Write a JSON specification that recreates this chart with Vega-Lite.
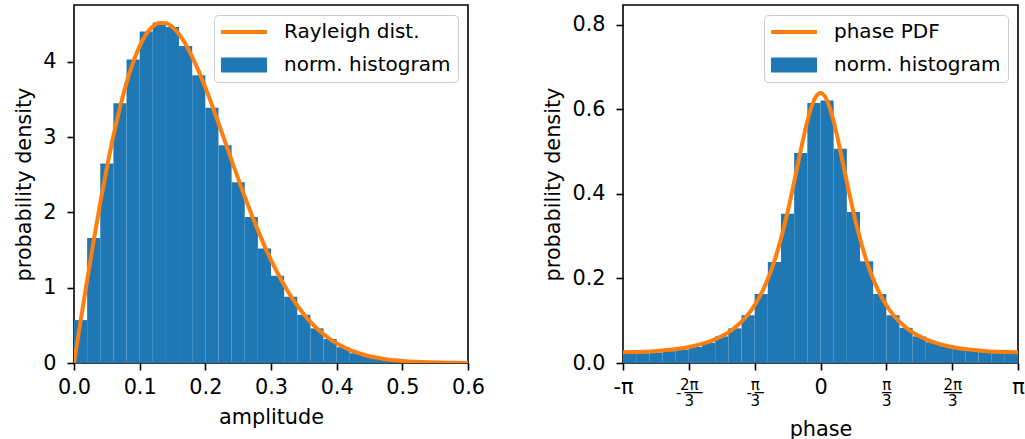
{
  "$schema": "https://vega.github.io/schema/vega-lite/v6.json",
  "background": "white",
  "padding": {"left": 12, "top": 4, "right": 5, "bottom": 2},
  "spacing": 56,
  "config": {
    "font": "DejaVu Sans",
    "view": {"stroke": "black", "strokeWidth": 1.6},
    "axis": {
      "grid": false, "domain": false, "labelFlush": false,
      "tickColor": "black", "tickSize": 7, "tickWidth": 1.6,
      "labelColor": "black", "labelFontSize": 20.8, "labelFont": "DejaVu Sans", "labelPadding": 7,
      "titleFontSize": 20.8, "titleFont": "DejaVu Sans", "titleFontWeight": "normal", "titleColor": "black", "titlePadding": 8
    },
    "axisX": {"titlePadding": 11},
    "axisY": {"labelPadding": 11},
    "legend": {
      "orient": "top-right", "offset": 10, "padding": 7, "rowPadding": 13,
      "symbolSize": 400, "symbolStrokeWidth": 0, "symbolOffset": 13, "labelOffset": 30, "labelLimit": 400,
      "labelFontSize": 20, "labelFont": "DejaVu Sans", "labelColor": "black",
      "fillColor": "rgba(255,255,255,0.8)", "strokeColor": "#cccccc", "cornerRadius": 4
    }
  },
  "resolve": {"scale": {"color": "independent"}, "legend": {"color": "independent"}},
  "hconcat": [
    {
      "width": 394, "height": 358,
      "layer": [
        {
          "data": {"values": [
            {"x": 0.00, "x2": 0.02, "y": 0.57, "series": "norm. histogram"},
            {"x": 0.02, "x2": 0.04, "y": 1.66, "series": "norm. histogram"},
            {"x": 0.04, "x2": 0.06, "y": 2.65, "series": "norm. histogram"},
            {"x": 0.06, "x2": 0.08, "y": 3.45, "series": "norm. histogram"},
            {"x": 0.08, "x2": 0.10, "y": 4.03, "series": "norm. histogram"},
            {"x": 0.10, "x2": 0.12, "y": 4.40, "series": "norm. histogram"},
            {"x": 0.12, "x2": 0.14, "y": 4.52, "series": "norm. histogram"},
            {"x": 0.14, "x2": 0.16, "y": 4.46, "series": "norm. histogram"},
            {"x": 0.16, "x2": 0.18, "y": 4.21, "series": "norm. histogram"},
            {"x": 0.18, "x2": 0.20, "y": 3.82, "series": "norm. histogram"},
            {"x": 0.20, "x2": 0.22, "y": 3.39, "series": "norm. histogram"},
            {"x": 0.22, "x2": 0.24, "y": 2.89, "series": "norm. histogram"},
            {"x": 0.24, "x2": 0.26, "y": 2.40, "series": "norm. histogram"},
            {"x": 0.26, "x2": 0.28, "y": 1.94, "series": "norm. histogram"},
            {"x": 0.28, "x2": 0.30, "y": 1.52, "series": "norm. histogram"},
            {"x": 0.30, "x2": 0.32, "y": 1.16, "series": "norm. histogram"},
            {"x": 0.32, "x2": 0.34, "y": 0.88, "series": "norm. histogram"},
            {"x": 0.34, "x2": 0.36, "y": 0.64, "series": "norm. histogram"},
            {"x": 0.36, "x2": 0.38, "y": 0.46, "series": "norm. histogram"},
            {"x": 0.38, "x2": 0.40, "y": 0.32, "series": "norm. histogram"},
            {"x": 0.40, "x2": 0.42, "y": 0.21, "series": "norm. histogram"},
            {"x": 0.42, "x2": 0.44, "y": 0.13, "series": "norm. histogram"},
            {"x": 0.44, "x2": 0.46, "y": 0.085, "series": "norm. histogram"},
            {"x": 0.46, "x2": 0.48, "y": 0.055, "series": "norm. histogram"},
            {"x": 0.48, "x2": 0.50, "y": 0.034, "series": "norm. histogram"},
            {"x": 0.50, "x2": 0.52, "y": 0.02, "series": "norm. histogram"},
            {"x": 0.52, "x2": 0.54, "y": 0.012, "series": "norm. histogram"},
            {"x": 0.54, "x2": 0.56, "y": 0.007, "series": "norm. histogram"},
            {"x": 0.56, "x2": 0.58, "y": 0.004, "series": "norm. histogram"},
            {"x": 0.58, "x2": 0.60, "y": 0.002, "series": "norm. histogram"}
          ]},
          "mark": {"type": "bar"},
          "encoding": {
            "x": {"field": "x", "type": "quantitative", "scale": {"domain": [0, 0.6], "nice": false, "zero": false},
                  "axis": {"title": "amplitude", "values": [0, 0.1, 0.2, 0.3, 0.4, 0.5, 0.6], "format": ".1f"}},
            "x2": {"field": "x2"},
            "y": {"field": "y", "type": "quantitative", "scale": {"domain": [0, 4.753], "nice": false},
                  "axis": {"title": "probability density", "values": [0, 1, 2, 3, 4], "format": "d"}},
            "y2": {"datum": 0},
            "color": {"field": "series", "type": "nominal",
                      "scale": {"domain": ["Rayleigh dist.", "norm. histogram"], "range": ["#ff7f0e", "#1f77b4"]},
                      "legend": {"title": null, "labelExpr": "datum.label + '\u00a0\u00a0'",
                        "encode": {"symbols": {"update": {
                          "shape": {"signal": "datum.value === 'norm. histogram' ? 'M-2.3,-0.75H2.3V0.75H-2.3Z' : 'M-2.3,-0.2H2.3V0.2H-2.3Z'"},
                          "fill": {"signal": "datum.value === 'norm. histogram' ? '#1f77b4' : '#ff7f0e'"},
                          "stroke": {"value": "transparent"},
                          "opacity": {"value": 1}
                        }}}}}
          }
        },
        {
          "data": {"values": [
            {"x": 0.00, "y": 0.0, "series": "Rayleigh dist."},
            {"x": 0.01, "y": 0.554, "series": "Rayleigh dist."},
            {"x": 0.02, "y": 1.098, "series": "Rayleigh dist."},
            {"x": 0.03, "y": 1.625, "series": "Rayleigh dist."},
            {"x": 0.04, "y": 2.125, "series": "Rayleigh dist."},
            {"x": 0.05, "y": 2.590, "series": "Rayleigh dist."},
            {"x": 0.06, "y": 3.015, "series": "Rayleigh dist."},
            {"x": 0.07, "y": 3.392, "series": "Rayleigh dist."},
            {"x": 0.08, "y": 3.719, "series": "Rayleigh dist."},
            {"x": 0.09, "y": 3.990, "series": "Rayleigh dist."},
            {"x": 0.10, "y": 4.206, "series": "Rayleigh dist."},
            {"x": 0.11, "y": 4.365, "series": "Rayleigh dist."},
            {"x": 0.12, "y": 4.467, "series": "Rayleigh dist."},
            {"x": 0.13, "y": 4.515, "series": "Rayleigh dist."},
            {"x": 0.14, "y": 4.511, "series": "Rayleigh dist."},
            {"x": 0.15, "y": 4.460, "series": "Rayleigh dist."},
            {"x": 0.16, "y": 4.364, "series": "Rayleigh dist."},
            {"x": 0.17, "y": 4.231, "series": "Rayleigh dist."},
            {"x": 0.18, "y": 4.065, "series": "Rayleigh dist."},
            {"x": 0.19, "y": 3.872, "series": "Rayleigh dist."},
            {"x": 0.20, "y": 3.658, "series": "Rayleigh dist."},
            {"x": 0.21, "y": 3.428, "series": "Rayleigh dist."},
            {"x": 0.22, "y": 3.187, "series": "Rayleigh dist."},
            {"x": 0.23, "y": 2.940, "series": "Rayleigh dist."},
            {"x": 0.24, "y": 2.693, "series": "Rayleigh dist."},
            {"x": 0.25, "y": 2.448, "series": "Rayleigh dist."},
            {"x": 0.26, "y": 2.210, "series": "Rayleigh dist."},
            {"x": 0.27, "y": 1.981, "series": "Rayleigh dist."},
            {"x": 0.28, "y": 1.764, "series": "Rayleigh dist."},
            {"x": 0.29, "y": 1.559, "series": "Rayleigh dist."},
            {"x": 0.30, "y": 1.369, "series": "Rayleigh dist."},
            {"x": 0.31, "y": 1.195, "series": "Rayleigh dist."},
            {"x": 0.32, "y": 1.035, "series": "Rayleigh dist."},
            {"x": 0.33, "y": 0.891, "series": "Rayleigh dist."},
            {"x": 0.34, "y": 0.763, "series": "Rayleigh dist."},
            {"x": 0.35, "y": 0.648, "series": "Rayleigh dist."},
            {"x": 0.36, "y": 0.547, "series": "Rayleigh dist."},
            {"x": 0.37, "y": 0.459, "series": "Rayleigh dist."},
            {"x": 0.38, "y": 0.383, "series": "Rayleigh dist."},
            {"x": 0.39, "y": 0.317, "series": "Rayleigh dist."},
            {"x": 0.40, "y": 0.262, "series": "Rayleigh dist."},
            {"x": 0.41, "y": 0.214, "series": "Rayleigh dist."},
            {"x": 0.42, "y": 0.174, "series": "Rayleigh dist."},
            {"x": 0.43, "y": 0.141, "series": "Rayleigh dist."},
            {"x": 0.44, "y": 0.113, "series": "Rayleigh dist."},
            {"x": 0.45, "y": 0.090, "series": "Rayleigh dist."},
            {"x": 0.46, "y": 0.072, "series": "Rayleigh dist."},
            {"x": 0.47, "y": 0.057, "series": "Rayleigh dist."},
            {"x": 0.48, "y": 0.045, "series": "Rayleigh dist."},
            {"x": 0.49, "y": 0.035, "series": "Rayleigh dist."},
            {"x": 0.50, "y": 0.027, "series": "Rayleigh dist."},
            {"x": 0.52, "y": 0.016, "series": "Rayleigh dist."},
            {"x": 0.54, "y": 0.009, "series": "Rayleigh dist."},
            {"x": 0.56, "y": 0.005, "series": "Rayleigh dist."},
            {"x": 0.58, "y": 0.003, "series": "Rayleigh dist."},
            {"x": 0.60, "y": 0.0015, "series": "Rayleigh dist."}
          ]},
          "mark": {"type": "line", "strokeWidth": 4, "interpolate": "monotone", "clip": true},
          "encoding": {
            "x": {"field": "x", "type": "quantitative", "axis": {"title": "amplitude"}},
            "y": {"field": "y", "type": "quantitative", "axis": {"title": "probability density"}},
            "color": {"field": "series", "type": "nominal"}
          }
        }
      ]
    },
    {
      "width": 395, "height": 358,
      "layer": [
        {
          "data": {"values": [
            {"x": -3.14159, "x2": -2.93215, "y": 0.022, "series": "norm. histogram"},
            {"x": -2.93215, "x2": -2.72271, "y": 0.023, "series": "norm. histogram"},
            {"x": -2.72271, "x2": -2.51327, "y": 0.025, "series": "norm. histogram"},
            {"x": -2.51327, "x2": -2.30383, "y": 0.028, "series": "norm. histogram"},
            {"x": -2.30383, "x2": -2.09440, "y": 0.032, "series": "norm. histogram"},
            {"x": -2.09440, "x2": -1.88496, "y": 0.038, "series": "norm. histogram"},
            {"x": -1.88496, "x2": -1.67552, "y": 0.048, "series": "norm. histogram"},
            {"x": -1.67552, "x2": -1.46608, "y": 0.063, "series": "norm. histogram"},
            {"x": -1.46608, "x2": -1.25664, "y": 0.082, "series": "norm. histogram"},
            {"x": -1.25664, "x2": -1.04720, "y": 0.113, "series": "norm. histogram"},
            {"x": -1.04720, "x2": -0.83776, "y": 0.163, "series": "norm. histogram"},
            {"x": -0.83776, "x2": -0.62832, "y": 0.239, "series": "norm. histogram"},
            {"x": -0.62832, "x2": -0.41888, "y": 0.353, "series": "norm. histogram"},
            {"x": -0.41888, "x2": -0.20944, "y": 0.497, "series": "norm. histogram"},
            {"x": -0.20944, "x2": 0.0, "y": 0.615, "series": "norm. histogram"},
            {"x": 0.0, "x2": 0.20944, "y": 0.621, "series": "norm. histogram"},
            {"x": 0.20944, "x2": 0.41888, "y": 0.507, "series": "norm. histogram"},
            {"x": 0.41888, "x2": 0.62832, "y": 0.357, "series": "norm. histogram"},
            {"x": 0.62832, "x2": 0.83776, "y": 0.241, "series": "norm. histogram"},
            {"x": 0.83776, "x2": 1.04720, "y": 0.163, "series": "norm. histogram"},
            {"x": 1.04720, "x2": 1.25664, "y": 0.113, "series": "norm. histogram"},
            {"x": 1.25664, "x2": 1.46608, "y": 0.083, "series": "norm. histogram"},
            {"x": 1.46608, "x2": 1.67552, "y": 0.063, "series": "norm. histogram"},
            {"x": 1.67552, "x2": 1.88496, "y": 0.049, "series": "norm. histogram"},
            {"x": 1.88496, "x2": 2.09440, "y": 0.040, "series": "norm. histogram"},
            {"x": 2.09440, "x2": 2.30383, "y": 0.033, "series": "norm. histogram"},
            {"x": 2.30383, "x2": 2.51327, "y": 0.029, "series": "norm. histogram"},
            {"x": 2.51327, "x2": 2.72271, "y": 0.026, "series": "norm. histogram"},
            {"x": 2.72271, "x2": 2.93215, "y": 0.024, "series": "norm. histogram"},
            {"x": 2.93215, "x2": 3.14159, "y": 0.023, "series": "norm. histogram"}
          ]},
          "mark": {"type": "bar"},
          "encoding": {
            "x": {"field": "x", "type": "quantitative", "scale": {"domain": [-3.14159265, 3.14159265], "nice": false, "zero": false},
                  "axis": {"title": "phase",
                    "values": [-3.14159265, -2.0943951, -1.04719755, 0, 1.04719755, 2.0943951, 3.14159265],
                    "labelExpr": "round(datum.value*3/PI) == -3 ? '-π' : round(datum.value*3/PI) == -2 ? ['\u00a0\u20092π', '-\u2009──', '\u00a0\u20093'] : round(datum.value*3/PI) == -1 ? ['\u00a0\u2009π', '-\u2009─', '\u00a0\u20093'] : round(datum.value*3/PI) == 0 ? '0' : round(datum.value*3/PI) == 1 ? ['π', '─', '3'] : round(datum.value*3/PI) == 2 ? ['2π', '──', '3'] : 'π'",
                    "labelFontSize": {"condition": {"test": "abs(round(datum.value*3/PI)) == 1 || abs(round(datum.value*3/PI)) == 2", "value": 15}, "value": 20.8},
                    "labelLineHeight": 8}},
            "x2": {"field": "x2"},
            "y": {"field": "y", "type": "quantitative", "scale": {"domain": [0, 0.847], "nice": false},
                  "axis": {"title": "probability density", "values": [0, 0.2, 0.4, 0.6, 0.8], "format": ".1f"}},
            "y2": {"datum": 0},
            "color": {"field": "series", "type": "nominal",
                      "scale": {"domain": ["phase PDF", "norm. histogram"], "range": ["#ff7f0e", "#1f77b4"]},
                      "legend": {"title": null, "labelExpr": "datum.label + '\u00a0\u00a0'",
                        "encode": {"symbols": {"update": {
                          "shape": {"signal": "datum.value === 'norm. histogram' ? 'M-2.3,-0.75H2.3V0.75H-2.3Z' : 'M-2.3,-0.2H2.3V0.2H-2.3Z'"},
                          "fill": {"signal": "datum.value === 'norm. histogram' ? '#1f77b4' : '#ff7f0e'"},
                          "stroke": {"value": "transparent"},
                          "opacity": {"value": 1}
                        }}}}}
          }
        },
        {
          "data": {"values": [
            {"x": -3.14159, "y": 0.0256, "series": "phase PDF"},
            {"x": -3.0, "y": 0.0258, "series": "phase PDF"},
            {"x": -2.8, "y": 0.0267, "series": "phase PDF"},
            {"x": -2.6, "y": 0.0284, "series": "phase PDF"},
            {"x": -2.4, "y": 0.0311, "series": "phase PDF"},
            {"x": -2.2, "y": 0.0351, "series": "phase PDF"},
            {"x": -2.0, "y": 0.0409, "series": "phase PDF"},
            {"x": -1.9, "y": 0.0447, "series": "phase PDF"},
            {"x": -1.8, "y": 0.0492, "series": "phase PDF"},
            {"x": -1.7, "y": 0.0547, "series": "phase PDF"},
            {"x": -1.6, "y": 0.0614, "series": "phase PDF"},
            {"x": -1.5, "y": 0.0694, "series": "phase PDF"},
            {"x": -1.4, "y": 0.0793, "series": "phase PDF"},
            {"x": -1.3, "y": 0.0915, "series": "phase PDF"},
            {"x": -1.2, "y": 0.1065, "series": "phase PDF"},
            {"x": -1.1, "y": 0.1251, "series": "phase PDF"},
            {"x": -1.0, "y": 0.1483, "series": "phase PDF"},
            {"x": -0.9, "y": 0.1772, "series": "phase PDF"},
            {"x": -0.8, "y": 0.2130, "series": "phase PDF"},
            {"x": -0.7, "y": 0.2570, "series": "phase PDF"},
            {"x": -0.6, "y": 0.3103, "series": "phase PDF"},
            {"x": -0.5, "y": 0.3727, "series": "phase PDF"},
            {"x": -0.45, "y": 0.4068, "series": "phase PDF"},
            {"x": -0.4, "y": 0.4421, "series": "phase PDF"},
            {"x": -0.35, "y": 0.4779, "series": "phase PDF"},
            {"x": -0.3, "y": 0.5133, "series": "phase PDF"},
            {"x": -0.25, "y": 0.5468, "series": "phase PDF"},
            {"x": -0.2, "y": 0.5771, "series": "phase PDF"},
            {"x": -0.15, "y": 0.6028, "series": "phase PDF"},
            {"x": -0.1, "y": 0.6224, "series": "phase PDF"},
            {"x": -0.05, "y": 0.6346, "series": "phase PDF"},
            {"x": 0.0, "y": 0.6388, "series": "phase PDF"},
            {"x": 0.05, "y": 0.6346, "series": "phase PDF"},
            {"x": 0.1, "y": 0.6224, "series": "phase PDF"},
            {"x": 0.15, "y": 0.6028, "series": "phase PDF"},
            {"x": 0.2, "y": 0.5771, "series": "phase PDF"},
            {"x": 0.25, "y": 0.5468, "series": "phase PDF"},
            {"x": 0.3, "y": 0.5133, "series": "phase PDF"},
            {"x": 0.35, "y": 0.4779, "series": "phase PDF"},
            {"x": 0.4, "y": 0.4421, "series": "phase PDF"},
            {"x": 0.45, "y": 0.4068, "series": "phase PDF"},
            {"x": 0.5, "y": 0.3727, "series": "phase PDF"},
            {"x": 0.6, "y": 0.3103, "series": "phase PDF"},
            {"x": 0.7, "y": 0.2570, "series": "phase PDF"},
            {"x": 0.8, "y": 0.2130, "series": "phase PDF"},
            {"x": 0.9, "y": 0.1772, "series": "phase PDF"},
            {"x": 1.0, "y": 0.1483, "series": "phase PDF"},
            {"x": 1.1, "y": 0.1251, "series": "phase PDF"},
            {"x": 1.2, "y": 0.1065, "series": "phase PDF"},
            {"x": 1.3, "y": 0.0915, "series": "phase PDF"},
            {"x": 1.4, "y": 0.0793, "series": "phase PDF"},
            {"x": 1.5, "y": 0.0694, "series": "phase PDF"},
            {"x": 1.6, "y": 0.0614, "series": "phase PDF"},
            {"x": 1.7, "y": 0.0547, "series": "phase PDF"},
            {"x": 1.8, "y": 0.0492, "series": "phase PDF"},
            {"x": 1.9, "y": 0.0447, "series": "phase PDF"},
            {"x": 2.0, "y": 0.0409, "series": "phase PDF"},
            {"x": 2.2, "y": 0.0351, "series": "phase PDF"},
            {"x": 2.4, "y": 0.0311, "series": "phase PDF"},
            {"x": 2.6, "y": 0.0284, "series": "phase PDF"},
            {"x": 2.8, "y": 0.0267, "series": "phase PDF"},
            {"x": 3.0, "y": 0.0258, "series": "phase PDF"},
            {"x": 3.14159, "y": 0.0256, "series": "phase PDF"}
          ]},
          "mark": {"type": "line", "strokeWidth": 4, "interpolate": "monotone", "clip": true},
          "encoding": {
            "x": {"field": "x", "type": "quantitative", "axis": {"title": "phase"}},
            "y": {"field": "y", "type": "quantitative", "axis": {"title": "probability density"}},
            "color": {"field": "series", "type": "nominal"}
          }
        }
      ]
    }
  ]
}
